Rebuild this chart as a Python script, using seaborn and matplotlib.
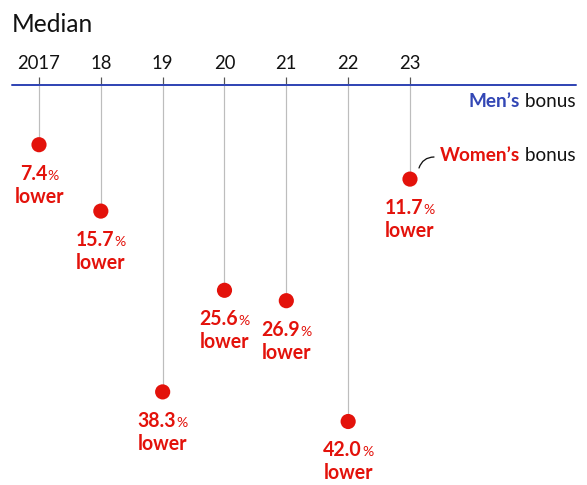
import matplotlib
matplotlib.use("Agg")
import matplotlib.pyplot as plt
import seaborn as sns
import pandas as pd
from matplotlib.offsetbox import TextArea, HPacker, AnnotationBbox

# ---- data ----
years = ["2017", "18", "19", "20", "21", "22", "23"]
values = [7.4, 15.7, 38.3, 25.6, 26.9, 42.0, 11.7]
title = "Median"

RED = "#E3120B"
BLUE = "#3347B5"
GREY = "#BDBDBD"
BLACK = "#121212"

sns.set_theme(style="white")
plt.rcParams["font.family"] = ["Lato", "DejaVu Sans"]

W, H = 587, 485
DPI = 72
fig = plt.figure(figsize=(W / DPI, H / DPI), dpi=DPI)
ax = fig.add_axes([0, 0, 1, 1])
ax.set_axis_off()

# pixel mapping
X0, DX = 39, 61.83      # px of first year, px per year
Y0, DY = 85.5, 8.0      # px of zero, px per percentage point
ax.set_xlim(-X0 / DX, (W - X0) / DX)
ax.set_ylim((H - Y0) / DY, -Y0 / DY)

def px2x(px):
    return (px - X0) / DX

def px2y(py):
    return (py - Y0) / DY

df = pd.DataFrame({"pos": range(len(years)), "year": years, "value": values})

# stems
ax.vlines(df["pos"], 0, df["value"], color=GREY, lw=1.2, zorder=1)
# small ticks above the line
ax.vlines(df["pos"], px2y(77), 0, color="#555555", lw=1.2, zorder=1)
# men's baseline
ax.axhline(0, xmin=12 / W, xmax=576 / W, color=BLUE, lw=2, zorder=2)

# dots
sns.scatterplot(data=df, x="pos", y="value", ax=ax, s=230, color=RED,
                edgecolor="none", zorder=3, legend=False)

# year labels
for p, y in zip(df["pos"], years):
    ax.text(p, px2y(69), y, ha="center", va="baseline", fontsize=18.5, color=BLACK)

# title
fig.text(12 / W, 1 - 32 / H, title, ha="left", va="baseline", fontsize=24.5, color=BLACK)

# value labels
for p, v in zip(df["pos"], df["value"]):
    num = TextArea(f"{v:.1f}", textprops=dict(color=RED, fontsize=19.5, fontweight="bold"))
    pct = TextArea("%", textprops=dict(color=RED, fontsize=14))
    box = HPacker(children=[num, pct], align="baseline", pad=0, sep=0)
    ab = AnnotationBbox(box, (p, v), xybox=(0, -29), boxcoords="offset points",
                        frameon=False, box_alignment=(0.5, 0.5), pad=0)
    ax.add_artist(ab)
    ax.annotate("lower", (p, v), xytext=(0, -52), textcoords="offset points",
                ha="center", va="center", fontsize=19.5, fontweight="bold", color=RED)

def legend_label(colored, color, x_px, y_px):
    a = TextArea(colored, textprops=dict(color=color, fontsize=19, fontweight="bold"))
    b = TextArea(" bonus", textprops=dict(color=BLACK, fontsize=19))
    box = HPacker(children=[a, b], align="baseline", pad=0, sep=0)
    ab = AnnotationBbox(box, (px2x(x_px), px2y(y_px)), frameon=False,
                        box_alignment=(1, 0.5), pad=0)
    ax.add_artist(ab)

legend_label("Men\u2019s", BLUE, 576, 102)
legend_label("Women\u2019s", RED, 576, 156)

# leader line for women's bonus
ax.annotate("", xy=(px2x(419), px2y(168)), xytext=(px2x(434), px2y(157)),
            arrowprops=dict(arrowstyle="-", color=BLACK, lw=1.3,
                            connectionstyle="arc3,rad=0.35",
                            shrinkA=0, shrinkB=0))

fig.savefig("out.png", dpi=DPI, facecolor="white")
